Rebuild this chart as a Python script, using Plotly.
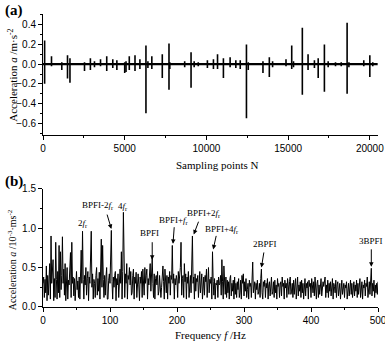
import plotly.graph_objects as go

# ---------------- Panel (a): time signal impulses ----------------
spike_n   = [100, 520, 1150, 1500, 1650, 2540, 2900, 3150, 3520, 3900, 4270, 4520, 5000, 5080, 5280, 5630, 5930,
             6300, 6420, 6660, 7300, 7710, 7760, 8670, 9060, 9250, 9500, 10060, 10430, 10680, 11040, 11450, 11800,
             12070, 12450, 12560, 13460, 13850, 14050, 14870, 15220, 15330, 15870, 16220, 16610, 16840, 17220,
             17450, 17900, 18250, 18610, 18720, 19630, 20000, 20180]
spike_pos = [0.24, 0.08, 0.02, 0.09, 0.06, 0.02, 0.06, 0.03, 0.05, 0.08, 0.05, 0.04, 0.02, 0.03, 0.08, 0.09, 0.05,
             0.19, 0.03, 0.08, 0.10, 0.21, 0.02, 0.03, 0.12, 0.03, 0.02, 0.04, 0.05, 0.10, 0.06, 0.07, 0.04,
             0.04, 0.20, 0.02, 0.03, 0.07, 0.03, 0.05, 0.19, 0.03, 0.37, 0.10, 0.04, 0.06, 0.20,
             0.03, 0.02, 0.02, 0.42, 0.02, 0.04, 0.09, 0.02]
spike_neg = [-0.20, -0.02, -0.06, -0.145, -0.19, -0.07, -0.06, -0.03, -0.02, -0.07, -0.04, -0.06, -0.09, -0.08, -0.06, -0.07, -0.05,
             -0.50, -0.04, -0.05, -0.14, -0.26, -0.05, -0.03, -0.24, -0.03, -0.02, -0.04, -0.05, -0.05, -0.14, -0.03, -0.04,
             -0.05, -0.55, -0.06, -0.09, -0.13, -0.03, -0.02, -0.05, -0.03, -0.31, -0.06, -0.04, -0.14, -0.28,
             -0.03, -0.02, -0.02, -0.30, -0.03, -0.02, -0.13, -0.02]
n_max = 20480

# ---------------- Panel (b): envelope spectrum ----------------
spec_vals = [
    0.30, 0.38, 0.12, 0.35, 0.18, 0.52, 0.08, 0.40, 0.15, 0.33,
    0.55, 0.10, 0.90, 0.30, 0.42, 0.60, 0.08, 0.36, 0.12, 0.82,
    0.35, 0.10, 0.45, 0.18, 0.78, 0.12, 0.70, 0.22, 0.40, 0.89,
    0.30, 0.48, 0.15, 0.55, 0.08, 0.38, 0.50, 0.10, 0.34, 0.28,
    0.42, 0.69, 0.12, 0.82, 0.30, 0.38, 0.14, 0.36, 0.08, 0.40,
    0.45, 0.22, 0.33, 0.12, 0.38, 0.10, 0.42, 0.72, 0.30, 0.96,
    0.35, 0.10, 0.40, 0.28, 0.50, 0.15, 0.36, 0.45, 0.08, 0.38,
    0.30, 0.55, 0.96, 0.25, 0.42, 0.10, 0.35, 0.30, 0.12, 0.40,
    0.50, 0.15, 0.36, 0.20, 0.44, 0.10, 0.60, 0.86, 0.25, 0.78,
    0.35, 0.12, 0.40, 0.15, 0.38, 0.50, 0.10, 0.10, 0.34, 0.42,
    0.30, 0.55, 0.97, 0.32, 0.10, 0.38, 0.25, 0.40, 0.45, 0.08,
    0.36, 0.28, 0.42, 0.12, 0.35, 0.48, 0.30, 0.70, 0.10, 0.45,
    1.20, 0.38, 0.12, 0.42, 0.30, 0.55, 0.10, 0.40, 0.35, 0.50,
    0.28, 0.45, 0.15, 0.18, 0.40, 0.48, 0.10, 0.38, 0.30, 0.44,
    0.12, 0.35, 0.42, 0.28, 0.08, 0.38, 0.30, 0.45, 0.12, 0.48,
    0.35, 0.15, 0.50, 0.30, 0.40, 0.48, 0.10, 0.36, 0.28, 0.42,
    0.55, 0.20, 0.38, 0.62, 0.30, 0.12, 0.42, 0.10, 0.36, 0.40,
    0.28, 0.45, 0.15, 0.20, 0.40, 0.30, 0.12, 0.25, 0.44, 0.52,
    0.32, 0.10, 0.48, 0.35, 0.18, 0.40, 0.10, 0.38, 0.30, 0.45,
    0.15, 0.40, 0.35, 0.78, 0.30, 0.42, 0.10, 0.36, 0.28, 0.40,
    0.34, 0.12, 0.45, 0.30, 0.38, 0.50, 0.82, 0.15, 0.36, 0.40,
    0.12, 0.55, 0.32, 0.42, 0.10, 0.38, 0.30, 0.45, 0.12, 0.35,
    0.40, 0.18, 0.50, 0.90, 0.30, 0.38, 0.10, 0.42, 0.20, 0.36,
    0.32, 0.40, 0.12, 0.38, 0.45, 0.18, 0.35, 0.42, 0.10, 0.30,
    0.38, 0.15, 0.40, 0.32, 0.48, 0.12, 0.36, 0.50, 0.18, 0.35,
    0.30, 0.38, 0.10, 0.70, 0.32, 0.15, 0.36, 0.10, 0.30, 0.28,
    0.34, 0.12, 0.38, 0.28, 0.30, 0.40, 0.15, 0.60, 0.32, 0.10,
    0.52, 0.30, 0.16, 0.38, 0.12, 0.34, 0.18, 0.32, 0.10, 0.36,
    0.40, 0.14, 0.30, 0.20, 0.34, 0.10, 0.38, 0.16, 0.30, 0.12,
    0.32, 0.22, 0.36, 0.12, 0.18, 0.34, 0.10, 0.40, 0.30, 0.42,
    0.14, 0.32, 0.20, 0.36, 0.12, 0.22, 0.30, 0.10, 0.34, 0.26,
    0.30, 0.12, 0.36, 0.57, 0.18, 0.24, 0.32, 0.10, 0.30, 0.22,
    0.34, 0.16, 0.20, 0.30, 0.12, 0.36, 0.48, 0.18, 0.10, 0.32,
    0.26, 0.34, 0.12, 0.30, 0.24, 0.36, 0.10, 0.28, 0.32, 0.14,
    0.30, 0.38, 0.16, 0.20, 0.32, 0.12, 0.34, 0.18, 0.28, 0.10,
    0.36, 0.26, 0.30, 0.12, 0.28, 0.32, 0.14, 0.38, 0.26, 0.30,
    0.10, 0.34, 0.24, 0.30, 0.12, 0.36, 0.28, 0.16, 0.32, 0.38,
    0.16, 0.20, 0.30, 0.12, 0.34, 0.16, 0.28, 0.36, 0.10, 0.30,
    0.38, 0.14, 0.28, 0.20, 0.32, 0.12, 0.34, 0.18, 0.30, 0.10,
    0.28, 0.36, 0.14, 0.30, 0.24, 0.32, 0.10, 0.34, 0.26, 0.30,
    0.12, 0.36, 0.28, 0.18, 0.32, 0.14, 0.38, 0.26, 0.10, 0.30,
    0.34, 0.12, 0.28, 0.16, 0.30, 0.36, 0.14, 0.20, 0.32, 0.26,
    0.30, 0.38, 0.12, 0.28, 0.18, 0.34, 0.12, 0.30, 0.20, 0.32,
    0.14, 0.28, 0.36, 0.10, 0.30, 0.26, 0.18, 0.34, 0.12, 0.28,
    0.32, 0.14, 0.26, 0.30, 0.10, 0.28, 0.34, 0.16, 0.26, 0.30,
    0.12, 0.28, 0.24, 0.32, 0.10, 0.26, 0.30, 0.14, 0.28, 0.34,
    0.16, 0.30, 0.12, 0.26, 0.32, 0.14, 0.28, 0.20, 0.34, 0.12,
    0.30, 0.16, 0.28, 0.36, 0.12, 0.26, 0.32, 0.10, 0.28, 0.24,
    0.34, 0.14, 0.30, 0.26, 0.38, 0.12, 0.28, 0.32, 0.16, 0.36,
    0.49, 0.14, 0.30, 0.20, 0.34, 0.12, 0.28, 0.18, 0.30, 0.16,
    0.32,
]
spec_freq = list(range(len(spec_vals)))

# Peak labels: text, label centre (f, v), arrow tail (f, v) and arrow tip (f, v); None = no arrow
ann_text = ["2<i>f</i><sub>r</sub>", "BPFI-2<i>f</i><sub>r</sub>", "4<i>f</i><sub>r</sub>", "BPFI",
            "BPFI+<i>f</i><sub>r</sub>", "BPFI+2<i>f</i><sub>r</sub>", "BPFI+4<i>f</i><sub>r</sub>", "2BPFI", "3BPFI"]
ann_tx = [59, 82, 120, 159, 195, 240, 267, 332, 490]
ann_ty = [1.06, 1.28, 1.27, 0.94, 1.10, 1.19, 0.98, 0.80, 0.84]
tail_f = [None, 95, None, 163, 196, 233, 259, 330, 490]
tail_v = [None, 1.19, None, 0.84, 1.03, 1.10, 0.92, 0.71, 0.75]
tip_f  = [None, 102, None, 163, 194, 225, 254, 326, 490]
tip_v  = [None, 0.99, None, 0.60, 0.80, 0.92, 0.73, 0.50, 0.51]

# ---------------- Build figure ----------------
sx, sy = [], []
for n, p, q in zip(spike_n, spike_pos, spike_neg):
    sx += [n, n, n, n, None]
    sy += [0, p, q, 0, None]

fig = go.Figure()
fig.add_trace(go.Scatter(x=[0, n_max], y=[0, 0], mode="lines",
                         line=dict(color="black", width=2.2), xaxis="x", yaxis="y", showlegend=False))
fig.add_trace(go.Scatter(x=sx, y=sy, mode="lines", connectgaps=False,
                         line=dict(color="black", width=1.6), xaxis="x", yaxis="y", showlegend=False))
fig.add_trace(go.Scatter(x=spec_freq, y=spec_vals, mode="lines",
                         line=dict(color="black", width=1), xaxis="x2", yaxis="y2", showlegend=False))

tickfont = dict(family="Liberation Sans Narrow, Arial Narrow, Liberation Sans", size=10, color="black")
ax_common = dict(showline=True, linecolor="black", linewidth=1, mirror=False, ticks="outside",
                 ticklen=4, tickwidth=1, tickcolor="black", showgrid=False, zeroline=False,
                 tickfont=tickfont, ticklabeloverflow="allow")

fig.update_layout(
    width=385, height=345,
    margin=dict(l=43, r=7, t=14, b=38, autoexpand=False),
    paper_bgcolor="white", plot_bgcolor="white",
    xaxis=dict(domain=[0, 1], anchor="y", range=[0, 20500], tickvals=[0, 5000, 10000, 15000, 20000],
               tickformat="d",
               minor=dict(dtick=2500, ticks="outside", ticklen=2, tickcolor="black"), **ax_common),
    yaxis=dict(domain=[0.587, 1.0], anchor="x", range=[-0.72, 0.51], tickvals=[-0.6, -0.4, -0.2, 0.0, 0.2, 0.4],
               tickformat=".1f", minor=dict(dtick=0.1, tick0=0, ticks="outside", ticklen=2, tickcolor="black"),
               **ax_common),
    xaxis2=dict(domain=[0, 1], anchor="y2", range=[0, 500], tickvals=[0, 100, 200, 300, 400, 500],
                tickformat="d",
                minor=dict(dtick=50, ticks="outside", ticklen=2, tickcolor="black"), **ax_common),
    yaxis2=dict(domain=[0, 0.404], anchor="x2", range=[0, 1.5], tickvals=[0.0, 0.5, 1.0, 1.5],
                tickformat=".1f", minor=dict(dtick=0.25, tick0=0, ticks="outside", ticklen=2, tickcolor="black"),
                **ax_common),
)

serif = "Liberation Serif, Times New Roman"
anns = [
    dict(text="<b>(a)</b>", x=-0.088, y=1.012, xref="paper", yref="paper", showarrow=False,
         xanchor="center", yanchor="middle", font=dict(family=serif, size=15, color="black")),
    dict(text="<b>(b)</b>", x=-0.088, y=0.43, xref="paper", yref="paper", showarrow=False,
         xanchor="center", yanchor="middle", font=dict(family=serif, size=15, color="black")),
    dict(text="Acceleration <i>a</i> /m·s<sup>-2</sup>", x=-0.092, y=0.79, xref="paper", yref="paper",
         xanchor="center", yanchor="middle",
         showarrow=False, textangle=-90, font=dict(family=serif, size=11, color="black")),
    dict(text="Acceleration <i>a</i> /10<sup>-3</sup>·ms<sup>-2</sup>", x=-0.092, y=0.16, xref="paper",
         xanchor="center", yanchor="middle",
         yref="paper", showarrow=False, textangle=-90, font=dict(family=serif, size=10, color="black")),
    dict(text="Sampling points N", x=0.52, y=0.485, xref="paper", yref="paper", showarrow=False,
         xanchor="center", yanchor="middle", font=dict(family=serif, size=11, color="black")),
    dict(text="Frequency <i>f</i> /Hz", x=0.50, y=-0.095, xref="paper", yref="paper", showarrow=False,
         xanchor="center", yanchor="middle", font=dict(family=serif, size=11, color="black")),
]
for t, tx, ty, bf, bv, af, av in zip(ann_text, ann_tx, ann_ty, tail_f, tail_v, tip_f, tip_v):
    anns.append(dict(text=t, x=tx, y=ty, xref="x2", yref="y2", showarrow=False,
                     xanchor="center", yanchor="middle",
                     font=dict(family=serif, size=9, color="black")))
    if af is not None:
        anns.append(dict(text="", x=af, y=av, ax=bf, ay=bv, axref="x2", ayref="y2", xref="x2", yref="y2",
                         showarrow=True, arrowhead=2, arrowsize=0.9, arrowwidth=1, arrowcolor="black"))
fig.update_layout(annotations=anns)

fig.write_html("out.html", config={"displayModeBar": False},
               post_script="document.body.style.margin='0';document.body.style.overflow='hidden';")
